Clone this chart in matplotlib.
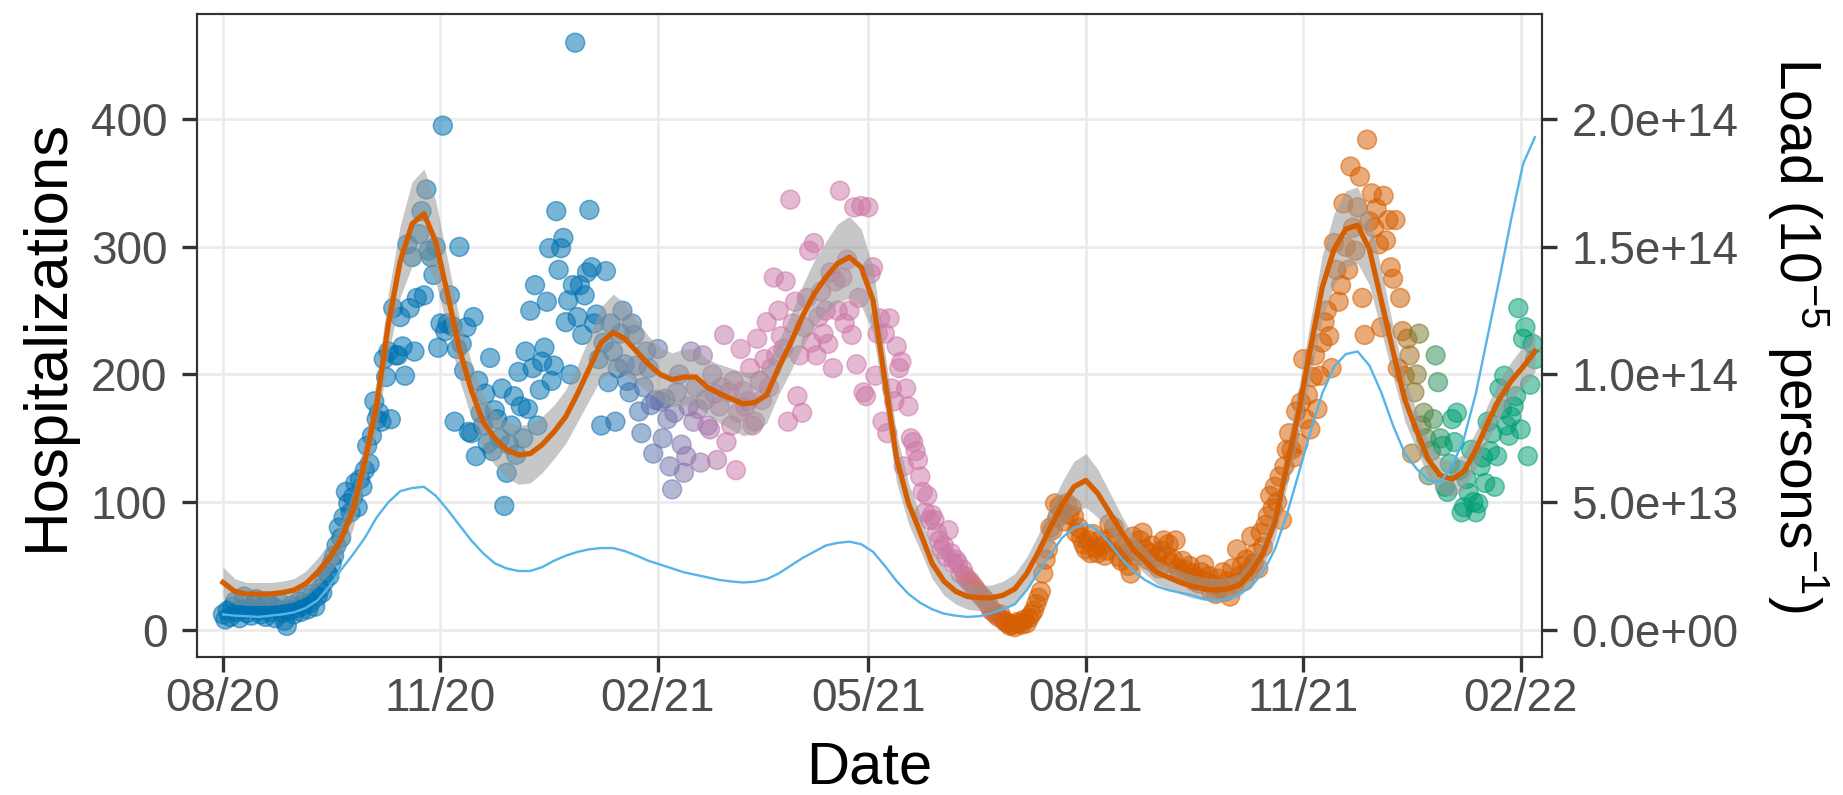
"""Daily hospitalizations with a smoothed trend and the modelled viral load."""
import matplotlib
import numpy as np

matplotlib.use("Agg")
import matplotlib.pyplot as plt
from matplotlib.colors import to_rgb
from matplotlib.ticker import FuncFormatter


START = np.datetime64("2020-08-01")

# daily hospitalizations, one value per day from START
HOSP = [
    12, 8, 15, 10, 18, 22, 14, 9, 16, 26,
    13, 17, 11, 20, 24, 15, 12, 19, 10, 22,
    14, 18, 9, 16, 21, 13, 7, 3, 15, 19,
    12, 17, 22, 14, 19, 25, 16, 21, 28, 18,
    26, 32, 29, 38, 45, 42, 52, 58, 66, 80,
    72, 88, 108, 99, 92, 104, 115, 96, 118, 112,
    125, 144, 130, 152, 179, 165, 170, 163, 212, 198,
    218, 165, 252, 215, 215, 245, 222, 199, 302, 252,
    292, 218, 260, 310, 328, 262, 345, 297, 292, 278,
    300, 221, 240, 395, 234, 240, 262, 238, 163, 220,
    300, 224, 203, 237, 155, 154, 245, 136, 195, 170,
    160, 185, 146, 213, 140, 172, 165, 150, 189, 97,
    123, 145, 160, 183, 137, 202, 175, 150, 218, 173,
    250, 205, 270, 160, 188, 210, 221, 257, 299, 195,
    207, 328, 282, 299, 307, 241, 258, 200, 270, 460,
    245, 270, 231, 262, 280, 329, 284, 240, 247, 212,
    160, 225, 281, 194, 240, 218, 163, 205, 232, 250,
    208, 195, 186, 240, 231, 207, 171, 154, 190, 218,
    205, 176, 138, 180, 220, 179, 150, 181, 165, 128,
    110, 170, 186, 200, 145, 123, 136, 175, 218, 163,
    190, 173, 131, 215, 180, 160, 157, 200, 185, 133,
    175, 190, 231, 147, 186, 160, 195, 125, 170, 220,
    187, 175, 179, 205, 160, 163, 228, 195, 180, 212,
    241, 190, 205, 276, 215, 250, 230, 220, 273, 163,
    337, 240, 257, 183, 215, 170, 237, 260, 297, 225,
    303, 215, 245, 265, 232, 250, 224, 280, 205, 273,
    250, 344, 276, 240, 290, 250, 231, 331, 208, 260,
    332, 186, 183, 331, 279, 284, 199, 232, 244, 163,
    232, 154, 244, 189, 179, 222, 205, 210, 128, 189,
    175, 150, 147, 140, 133, 120, 108, 92, 105, 86,
    90, 86, 76, 70, 63, 66, 57, 78, 60, 52,
    55, 52, 44, 47, 42, 39, 38, 35, 33, 30,
    28, 26, 24, 22, 19, 15, 14, 12, 10, 12,
    8, 6, 5, 3, 4, 2, 6, 5, 4, 8,
    5, 9, 12, 15, 20, 25, 30, 44, 55, 63,
    80, 78, 99, 88, 97, 92, 85, 99, 90, 96,
    89, 76, 80, 72, 67, 63, 70, 60, 75, 64,
    60, 70, 66, 58, 62, 83, 72, 80, 68, 57,
    54, 65, 60, 50, 44, 73, 62, 58, 70, 76,
    63, 55, 60, 66, 52, 57, 48, 62, 70, 58,
    67, 52, 55, 70, 48, 45, 54, 47, 42, 50,
    44, 38, 41, 36, 45, 51, 38, 42, 30, 35,
    28, 40, 33, 45, 30, 38, 26, 48, 36, 63,
    42, 50, 38, 55, 46, 73, 52, 60, 48, 76,
    65, 82, 89, 105, 95, 112, 100, 120, 86, 128,
    141, 154, 141, 135, 171, 146, 178, 212, 165, 184,
    157, 198, 215, 173, 199, 225, 241, 250, 230, 205,
    303, 282, 257, 270, 334, 300, 282, 363, 315, 297,
    331, 355, 260, 231, 384, 320, 342, 315, 330, 302,
    237, 340, 305, 321, 284, 275, 321, 205, 260, 234,
    199, 228, 215, 138, 186, 200, 232, 160, 170, 150,
    121, 140, 165, 215, 194, 150, 144, 112, 108, 130,
    165, 147, 170, 125, 92, 96, 118, 107, 141, 100,
    92, 99, 128, 135, 115, 163, 140, 154, 112, 136,
    189, 173, 199, 160, 152, 167, 175, 183, 252, 157,
    228, 237, 136, 192, 224, 212,
]

# smoothed fit, its confidence half-width and the load, every CURVE_STEP days
CURVE_STEP = 5
SMOOTH = [
    37, 30, 28, 28, 28, 29, 31, 36, 45, 56,
    71, 94, 132, 176, 240, 289, 318, 326, 304, 263,
    220, 188, 163, 150, 141, 137, 138, 145, 155, 167,
    185, 205, 225, 233, 228, 218, 208, 200, 196, 198,
    198, 190, 185, 181, 177, 178, 184, 205, 224, 245,
    263, 276, 287, 292, 284, 258, 196, 134, 99, 76,
    52, 38, 30, 26, 25, 25, 27, 32, 44, 61,
    80, 98, 112, 117, 107, 92, 77, 63, 54, 45,
    41, 37, 34, 32, 31, 32, 35, 45, 60, 84,
    128, 170, 220, 268, 298, 314, 317, 298, 258, 218,
    180, 156, 133, 121, 118, 124, 141, 162, 181, 195,
    206, 218,
]
BAND = [
    12, 10, 9, 9, 9, 9, 9, 10, 11, 12,
    13, 15, 17, 20, 24, 28, 33, 35, 32, 27,
    24, 22, 21, 21, 22, 23, 23, 22, 21, 21,
    22, 25, 28, 30, 28, 25, 22, 21, 21, 22,
    22, 22, 23, 24, 25, 24, 22, 21, 22, 24,
    26, 28, 31, 32, 30, 26, 22, 19, 16, 14,
    12, 11, 10, 10, 10, 10, 11, 12, 13, 14,
    16, 18, 20, 21, 19, 16, 13, 11, 10, 9,
    9, 9, 9, 9, 9, 9, 9, 10, 11, 13,
    16, 19, 22, 25, 28, 30, 30, 28, 24, 20,
    17, 15, 14, 14, 14, 14, 14, 14, 15, 15,
    16, 16,
]
LOAD_E13 = [
    0.60, 0.55, 0.53, 0.50, 0.55, 0.60, 0.68, 0.85, 1.15, 1.70,
    2.35, 2.95, 3.60, 4.40, 5.00, 5.43, 5.55, 5.60, 5.25, 4.70,
    4.10, 3.50, 3.00, 2.60, 2.40, 2.30, 2.30, 2.45, 2.70, 2.90,
    3.05, 3.15, 3.20, 3.20, 3.08, 2.90, 2.70, 2.55, 2.40, 2.25,
    2.15, 2.05, 1.95, 1.89, 1.85, 1.88, 1.98, 2.20, 2.50, 2.80,
    3.05, 3.30, 3.40, 3.45, 3.35, 3.05, 2.50, 1.90, 1.40, 1.05,
    0.80, 0.63, 0.55, 0.50, 0.53, 0.65, 0.80, 1.00, 1.55, 2.25,
    2.95, 3.60, 4.00, 4.15, 3.90, 3.40, 2.80, 2.30, 1.95, 1.70,
    1.55, 1.45, 1.35, 1.20, 1.15, 1.20, 1.40, 1.70, 2.25, 3.15,
    4.50, 6.10, 7.75, 9.25, 10.30, 10.80, 10.90, 10.35, 9.30, 8.00,
    6.90, 6.30, 5.85, 5.80, 6.40, 7.50, 9.25, 11.50, 13.75, 16.10,
    18.25, 19.30,
]

DATE_TICKS = ["2020-08-01", "2020-11-01", "2021-02-01", "2021-05-01",
              "2021-08-01", "2021-11-01", "2022-02-01"]
HOSP_TICKS = [0, 100, 200, 300, 400]
LOAD_TICKS = [0, 5e13, 1e14, 1.5e14, 2e14]
LOAD_PER_HOSP = 5e11

# variant palette, blended across the takeover periods (day offsets from START)
BLUE, PINK, VERMILLION, GREEN = "#0072B2", "#CC79A7", "#D55E00", "#009E73"
COLOUR_STOPS = [(0, BLUE), (156, BLUE), (216, PINK), (312, PINK),
                (333, VERMILLION), (497, VERMILLION), (518, GREEN), (600, GREEN)]

W, H = 1843, 795
LEFT, RIGHT, TOP, BOTTOM = 197, 1542, 14, 656.5
DARK, TICK_GREY = "#333333", "#4D4D4D"
FONT = ["Liberation Sans", "DejaVu Sans"]


def point_colours(days, alpha):
    stop_days = [d for d, _ in COLOUR_STOPS]
    rgb = np.array([to_rgb(c) for _, c in COLOUR_STOPS])
    cols = np.column_stack([np.interp(days, stop_days, rgb[:, i]) for i in range(3)])
    return np.column_stack([cols, np.full(len(days), alpha)])


def main() -> None:
    plt.rcParams["font.family"] = FONT
    plt.rcParams["mathtext.fontset"] = "custom"
    plt.rcParams["mathtext.rm"] = "Liberation Sans"
    plt.rcParams["mathtext.it"] = "Liberation Sans:italic"

    days = np.arange(len(HOSP))
    dates = START + days.astype("timedelta64[D]")
    curve_days = np.arange(len(SMOOTH)) * CURVE_STEP
    curve_dates = START + curve_days.astype("timedelta64[D]")
    smooth = np.array(SMOOTH, float)
    band = np.array(BAND, float)

    fig = plt.figure(figsize=(W / 100, H / 100), dpi=100)
    ax = fig.add_axes([LEFT / W, 1 - BOTTOM / H, (RIGHT - LEFT) / W, (BOTTOM - TOP) / H])

    ax.scatter(dates, HOSP, s=185, facecolors=point_colours(days, 0.52),
               edgecolors=point_colours(days, 0.55), linewidths=1.1, zorder=2)
    ax.fill_between(curve_dates, smooth - band, smooth + band, color="#999999",
                    alpha=0.55, linewidth=0, zorder=3)
    ax.plot(curve_dates, smooth, color=VERMILLION, lw=3.8, zorder=4,
            solid_joinstyle="round")

    ylim = (-21, 482.5)
    ax.set_ylim(*ylim)
    ax.set_xlim(START - np.timedelta64(11, "D"), START + np.timedelta64(558, "D"))
    ax.set_yticks(HOSP_TICKS)
    tick_dates = np.array(DATE_TICKS, dtype="datetime64[D]")
    ax.set_xticks(tick_dates)
    ax.set_xticklabels([str(d)[5:7] + "/" + str(d)[2:4] for d in tick_dates])
    ax.grid(color="#EBEBEB", lw=2.0)
    ax.set_axisbelow(True)
    ax.tick_params(length=10.8, width=2.4, color=DARK, labelsize=33, labelcolor=TICK_GREY)
    ax.tick_params(axis="y", pad=10.5)
    ax.tick_params(axis="x", pad=4)
    for spine in ax.spines.values():
        spine.set_color(DARK)
        spine.set_linewidth(1.5)

    load_ax = ax.twinx()
    load_ax.plot(curve_dates, np.array(LOAD_E13) * 1e13, color="#56B4E9", lw=1.7,
                 zorder=5, solid_joinstyle="round")
    load_ax.set_ylim(ylim[0] * LOAD_PER_HOSP, ylim[1] * LOAD_PER_HOSP)
    load_ax.set_yticks(LOAD_TICKS)
    load_ax.yaxis.set_major_formatter(FuncFormatter(lambda v, _: f"{v:.1e}"))
    load_ax.tick_params(length=10.8, width=2.4, color=DARK, labelsize=33,
                        labelcolor=TICK_GREY, pad=10.5)
    for spine in load_ax.spines.values():
        spine.set_color(DARK)
        spine.set_linewidth(1.5)

    fig.text(47 / W, 1 - (TOP + BOTTOM) / 2 / H, "Hospitalizations", rotation=90,
             ha="center", va="center", fontsize=44.5)
    fig.text((LEFT + RIGHT) / 2 / W, 1 - 783 / H, "Date", ha="center", va="baseline",
             fontsize=43)
    fig.text(1798 / W, 1 - (TOP + BOTTOM) / 2 / H,
             r"Load (10$^{-5}$ persons$^{-1}$)", rotation=-90,
             ha="center", va="center", fontsize=41)

    fig.savefig("out.png", dpi=100)
    plt.close(fig)


if __name__ == "__main__":
    main()
